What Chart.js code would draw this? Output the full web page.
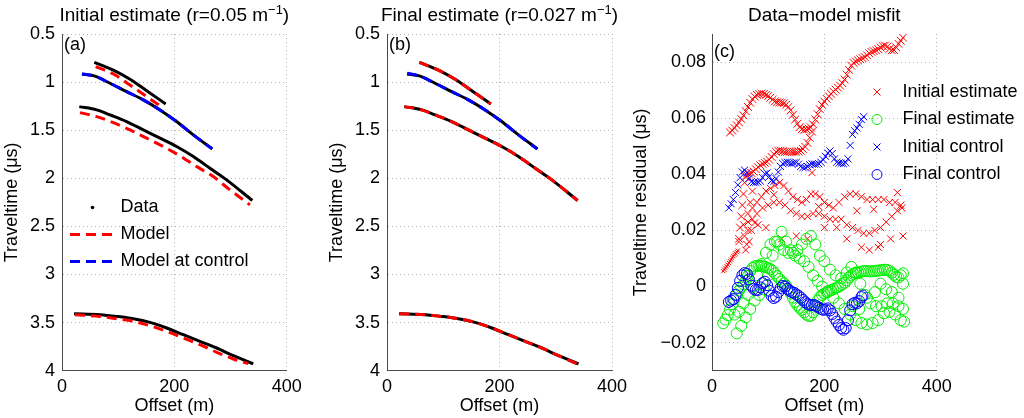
<!DOCTYPE html>
<html lang="en">
<head>
  <meta charset="UTF-8" />
  <title>Traveltime inversion: initial vs final estimate</title>
  <script src="https://cdn.jsdelivr.net/npm/chart.js"></script>
  <style>
    body { margin: 0; background: #fff; }
    #wrap { position: relative; width: 1024px; height: 418px; }
    #wrap canvas { position: absolute; left: 0; top: 0; }
  </style>
</head>
<body>
  <div id="wrap">
    <canvas id="chartA" width="1024" height="418"></canvas>
    <canvas id="chartB" width="1024" height="418"></canvas>
    <canvas id="chartC" width="1024" height="418"></canvas>
  </div>

  <script>
    // ---- axis ticks ----
    const offsetTicks = [0, 200, 400];
    const timeTicks = [0.5, 1, 1.5, 2, 2.5, 3, 3.5, 4];
    const residTicks = [-0.02, 0, 0.02, 0.04, 0.06, 0.08];

    // ---- picked traveltimes (offset m, time us) ----
    const data1X = [57.5, 91.4, 121, 150.7, 184.6];
    const data1T = [0.794, 0.875, 0.97, 1.09, 1.227];
    const data2X = [35.6, 57.5, 85.4, 115, 144.7, 174.4, 204, 233.7, 267.5];
    const data2T = [0.915, 0.936, 1.012, 1.099, 1.185, 1.289, 1.41, 1.549, 1.694];
    const data3X = [30.8, 61.7, 85.4, 115, 144.7, 174.4, 204, 233.7, 263.4, 293, 338.8];
    const data3T = [1.255, 1.289, 1.341, 1.41, 1.497, 1.583, 1.67, 1.774, 1.895, 2.016, 2.231];
    const data4X = [21.4, 67.6, 97.4, 127, 156.6, 186.3, 216, 245.6, 275.3, 305, 340.5];
    const data4T = [3.408, 3.418, 3.436, 3.46, 3.498, 3.556, 3.626, 3.695, 3.764, 3.844, 3.93];

    // initial model (r=0.05)
    const init1X = [60, 91.4, 121, 150.7, 178.5];
    const init1T = [0.84, 0.915, 1.03, 1.151, 1.261];
    const init3X = [32, 61.7, 91.4, 121, 150.7, 180.3, 210, 239.7, 269.3, 299, 334.6];
    const init3T = [1.317, 1.359, 1.421, 1.497, 1.583, 1.67, 1.767, 1.878, 1.982, 2.12, 2.276];
    const init4X = [23, 67.6, 97.4, 127, 156.6, 186.3, 216, 245.6, 275.3, 305, 331.6];
    const init4T = [3.418, 3.436, 3.46, 3.487, 3.532, 3.591, 3.66, 3.729, 3.809, 3.878, 3.927];
    const initCtrlX = [35.6, 57.5, 85.4, 115, 144.7, 174.4, 204, 233.7, 267.5];
    const initCtrlT = [0.915, 0.936, 1.012, 1.099, 1.185, 1.289, 1.41, 1.549, 1.694];

    // final model (r=0.027) - sits on the data
    const fin1X = [57.5, 91.4, 121, 150.7, 184.6];
    const fin1T = [0.794, 0.875, 0.97, 1.09, 1.227];
    const fin3X = [30.8, 61.7, 85.4, 115, 144.7, 174.4, 204, 233.7, 263.4, 293, 338.8];
    const fin3T = [1.255, 1.289, 1.341, 1.41, 1.497, 1.583, 1.67, 1.774, 1.895, 2.016, 2.231];
    const fin4X = [21.9, 67.6, 97.4, 127, 156.6, 186.3, 216, 245.6, 275.3, 305, 338];
    const fin4T = [3.408, 3.418, 3.436, 3.46, 3.498, 3.556, 3.626, 3.695, 3.764, 3.844, 3.93];
    const finCtrlX = [36, 57.5, 85.4, 115, 144.7, 174.4, 204, 233.7, 267.3];
    const finCtrlT = [0.908, 0.936, 1.012, 1.099, 1.185, 1.289, 1.41, 1.549, 1.697];

    // ---- residuals (offset m, residual us) ----
    const misfitInitBand = [[32,0.0549],[36,0.0556],[40,0.0565],[44,0.0575],[48,0.0585],[52,0.0597],[56,0.061],[60,0.0625],
      [64,0.064],[68,0.0655],[72,0.0668],[76,0.0677],[80,0.0683],[84,0.0686],[88,0.0687],[92,0.0686],[96,0.0683],[100,0.0679],
      [104,0.0673],[108,0.0666],[112,0.066],[116,0.0657],[120,0.0656],[124,0.0655],[128,0.0653],[132,0.0648],[136,0.064],
      [140,0.0628],[144,0.0612],[148,0.0595],[152,0.058],[156,0.0568],[160,0.0561],[164,0.0559],[168,0.056],[172,0.0563],
      [176,0.0567],[180,0.0578],[184,0.0595],[188,0.0614],[192,0.0632],[196,0.0647],[200,0.0659],[204,0.0669],[208,0.0678],
      [212,0.0687],[216,0.0695],[220,0.0702],[224,0.0709],[228,0.0716],[232,0.0725],[236,0.0738],[240,0.0755],[244,0.0772],
      [248,0.0787],[252,0.0797],[256,0.0802],[260,0.0806],[264,0.081],[268,0.0814],[272,0.0818],[276,0.0824],[280,0.0831],
      [284,0.0836],[288,0.0839],[292,0.0842],[296,0.0846],[300,0.0852],[304,0.0857],[308,0.0859],[312,0.0855],[316,0.0847],
      [320,0.0842],[324,0.0843],[328,0.0852],[332,0.0865],[336,0.0876],[340,0.0887]];
    const misfitInitLow = [[48,0.017],[50,0.021],[52,0.025],[54,0.029],[56,0.033],[58,0.037],[60,0.039],[62,0.0398],[66,0.0402],
      [70,0.0405],[74,0.041],[78,0.0418],[82,0.0425],[86,0.0432],[90,0.0437],[94,0.0441],[98,0.0445],[102,0.0452],[106,0.0462],
      [110,0.0472],[114,0.048],[118,0.0484],[122,0.0484],[126,0.0482],[130,0.048],[134,0.048],[138,0.048],[142,0.048],
      [146,0.048],[150,0.048],[154,0.0481],[158,0.0484],[162,0.049],[166,0.0498],[170,0.0512],[174,0.053],[178,0.0552]];
    const misfitInitNear = [[20,0.0055],[22,0.006],[24,0.0066],[26,0.0072],[28,0.0078],[30,0.0084],[32,0.009],[34,0.0096],
      [36,0.0102],[38,0.0108],[40,0.0113],[42,0.0118],[44,0.0123],[46,0.0128]];
    const misfitInitScatter = [[64,0.026],[72,0.028],[80,0.03],[88,0.032],[96,0.034],[104,0.035],[112,0.036],[120,0.037],
      [128,0.036],[136,0.034],[144,0.032],[152,0.031],[160,0.03],[168,0.031],[176,0.033],[184,0.033],[192,0.032],[200,0.03],
      [208,0.029],[216,0.028],[226,0.03],[236,0.032],[246,0.033],[256,0.033],[266,0.032],[276,0.031],[286,0.031],[296,0.031],
      [306,0.031],[316,0.03],[326,0.03],[336,0.029],
      [56,0.022],[64,0.023],[72,0.024],[80,0.026],[90,0.028],[100,0.029],[110,0.03],[120,0.03],[130,0.029],[140,0.027],
      [150,0.026],[160,0.025],[170,0.025],[180,0.026],[190,0.026],[200,0.025],[210,0.024],[220,0.024],[230,0.024],[240,0.022],
      [250,0.021],[260,0.02],[270,0.019],[280,0.019],[290,0.02],[300,0.021],[310,0.023],[320,0.025],[330,0.027],[338,0.028],
      [48,0.016],[58,0.018],[70,0.02],[82,0.022],[96,0.021],[124,0.017],[150,0.018],[170,0.017],[200,0.021],[222,0.021],
      [266,0.014],[296,0.014],[318,0.017],[340,0.018],[178,0.0406],
      [60,0.013],[62,0.015],[64,0.02],[66,0.016],[68,0.03],[72,0.034],[76,0.0227],[110,0.0327],[190,0.0285],[258,0.027],
      [288,0.0275],[330,0.0335],[240,0.017],[280,0.013],[300,0.015]];

    const misfitFinalBand = [[20,-0.0131],[24,-0.0118],[28,-0.0102],[32,-0.0082],[36,-0.0063],[40,-0.0045],[44,-0.003],
      [48,-0.0015],[52,-0.0003],[56,0.0008],[60,0.002],[64,0.0038],[68,0.0055],[72,0.0066],[76,0.0072],[80,0.0074],[84,0.0074],
      [88,0.0073],[92,0.0071],[96,0.0069],[100,0.0066],[104,0.0062],[108,0.0056],[112,0.0047],[116,0.0037],[120,0.0027],
      [124,0.0018],[128,0.0012],[132,0.0003],[136,-0.001],[140,-0.0025],[144,-0.004],[148,-0.0055],[152,-0.0067],[156,-0.0076],
      [160,-0.0083],[164,-0.0092],[168,-0.01],[172,-0.0105],[176,-0.0104],[180,-0.0092],[184,-0.0068],[188,-0.005],[192,-0.0038],
      [196,-0.003],[200,-0.0025],[204,-0.002],[208,-0.0016],[212,-0.0013],[216,-0.001],[220,-0.0006],[224,-0.0002],[228,0.0002],
      [232,0.0008],[236,0.0014],[240,0.0022],[244,0.0032],[248,0.004],[252,0.0045],[256,0.0048],[260,0.005],[264,0.0052],
      [268,0.0054],[272,0.0055],[276,0.0055],[280,0.0054],[284,0.0054],[288,0.0055],[292,0.0056],[296,0.0057],[300,0.0058],
      [304,0.0059],[308,0.006],[312,0.0059],[316,0.0056],[320,0.0049],[324,0.0042],[328,0.0034],[332,0.0032],[336,0.004],[340,0.0047]];
    const misfitFinalScatter = [[44,-0.0167],[52,-0.014],[60,-0.011],[68,-0.008],[76,-0.005],[84,-0.003],[92,-0.001],[100,0.004],
      [108,0.011],[116,0.016],[124,0.0195],[132,0.016],[140,0.013],[148,0.011],[156,0.01],[164,0.009],[172,0.007],[180,0.004],
      [188,0.002],[196,0],[206,-0.002],[216,-0.004],[226,-0.006],[236,-0.008],[246,-0.01],[256,-0.012],[266,-0.013],
      [276,-0.0135],[286,-0.013],[296,-0.012],[306,-0.0095],[316,-0.009],[326,-0.01],[336,-0.012],[342,-0.0125],
      [40,-0.01],[48,-0.009],[56,-0.006],[64,-0.003],[72,0],[80,0.004],[88,0.008],[96,0.012],[104,0.015],[112,0.016],[120,0.015],
      [128,0.013],[136,0.012],[144,0.012],[152,0.013],[160,0.015],[168,0.017],[176,0.018],[184,0.015],[192,0.011],[200,0.009],
      [210,0.006],[220,0.004],[230,0.003],[240,0.005],[248,0.007],[256,0.005],[264,0.001],[272,-0.003],[282,-0.006],[292,-0.007],
      [302,-0.007],[312,-0.006],[322,-0.006],[332,-0.007],[340,-0.008],
      [250,-0.007],[262,-0.008],[276,-0.004],[290,-0.002],[300,0.001],[310,-0.001],[320,-0.002],[332,-0.004],[340,0.001]];

    const misfitCtrlInit = [[30,0.028],[34,0.0295],[38,0.031],[42,0.0335],[46,0.0362],[50,0.0388],[54,0.0408],[58,0.0415],
      [62,0.0405],[66,0.0385],[70,0.0374],[74,0.0371],[78,0.0371],[82,0.0372],[86,0.0376],[90,0.0388],[94,0.0402],[98,0.0405],
      [102,0.0392],[106,0.0378],[110,0.0374],[114,0.0385],[118,0.0408],[122,0.0428],[126,0.0438],[130,0.0442],[134,0.0443],
      [138,0.0441],[142,0.0439],[146,0.0441],[150,0.0442],[154,0.0436],[158,0.0428],[162,0.0424],[166,0.0424],[170,0.0428],
      [174,0.0434],[178,0.0437],[182,0.0436],[186,0.0436],[190,0.0438],[194,0.0443],[198,0.0452],[202,0.0464],[206,0.0476],
      [210,0.0483],[214,0.0474],[218,0.0455],[222,0.0443],[226,0.044],[230,0.0439],[234,0.0438],[238,0.0441],[242,0.0455],
      [246,0.0503],[250,0.0542],[254,0.0555],[258,0.0565],[262,0.0578],[266,0.0595],[270,0.0605]];
    const misfitCtrlFinal = [[30,-0.0055],[34,-0.005],[38,-0.0045],[42,-0.003],[46,-0.0005],[50,0.002],[54,0.004],[58,0.0048],
      [62,0.0045],[66,0.0025],[70,0.0003],[74,-0.0008],[78,-0.0012],[82,-0.0012],[86,-0.0003],[90,0.0012],[94,0.0017],[98,0.0005],
      [102,-0.0015],[106,-0.0033],[110,-0.0041],[114,-0.0036],[118,-0.002],[122,-0.0005],[126,0.0002],[130,0],[134,-0.0008],
      [138,-0.0015],[142,-0.002],[146,-0.0022],[150,-0.0028],[154,-0.0033],[158,-0.004],[162,-0.0048],[166,-0.0056],[170,-0.0062],
      [174,-0.0065],[178,-0.0066],[182,-0.0066],[186,-0.007],[190,-0.0075],[194,-0.008],[198,-0.0083],[202,-0.0082],[206,-0.0078],
      [210,-0.0085],[214,-0.0098],[218,-0.0112],[222,-0.0125],[226,-0.0137],[230,-0.0148],[234,-0.0154],[238,-0.0148],[242,-0.012],
      [246,-0.0085],[250,-0.0063],[254,-0.0058],[258,-0.006],[262,-0.0052],[266,-0.0038],[268,-0.0032]];

    // ---- helpers ----
    const FONT = '"Liberation Sans", Arial, Helvetica, sans-serif';
    Chart.defaults.font.family = FONT;
    Chart.defaults.font.size = 18;
    Chart.defaults.color = '#000';

    const curve = (xs, ts) => xs.map((x, i) => ({ x: x, y: ts[i] }));
    const pts = list => list.map(p => ({ x: p[0], y: p[1] }));

    // titles, panel tags and the hand-placed legends
    const overlayText = {
      id: 'overlayText',
      afterDraw(chart, args, opts) {
        const ctx = chart.ctx;
        const area = chart.chartArea;
        const big = '18px ' + FONT, head = '19px ' + FONT, small = '13px ' + FONT;
        ctx.save();
        ctx.fillStyle = '#000';
        ctx.textAlign = 'left';

        const t = opts.title;
        ctx.font = head;
        const w1 = ctx.measureText(t.main).width;
        const w3 = t.tail ? ctx.measureText(t.tail).width : 0;
        ctx.font = small;
        const w2 = t.sup ? ctx.measureText(t.sup).width : 0;
        let x = (area.left + area.right) / 2 - (w1 + w2 + w3) / 2;
        ctx.textBaseline = 'alphabetic';
        ctx.font = head;
        ctx.fillText(t.main, x, 21);
        x += w1;
        if (t.sup) { ctx.font = small; ctx.fillText(t.sup, x, 14); x += w2; }
        if (t.tail) { ctx.font = head; ctx.fillText(t.tail, x, 21); }

        ctx.font = big;
        ctx.textBaseline = 'middle';
        ctx.fillText(opts.tag.text, area.left + 2, opts.tag.y);

        const L = opts.legend;
        if (L) {
          let row = 0;
          chart.data.datasets.forEach(ds => {
            if (!ds.label) return;
            const y = L.top + row * L.rowHeight;
            const mid = (L.x0 + L.x1) / 2;
            ctx.save();
            if (ds.legendMark === 'dot') {
              ctx.fillStyle = ds.borderColor;
              ctx.beginPath(); ctx.arc(mid, y, 1.8, 0, Math.PI * 2); ctx.fill();
            } else if (ds.legendMark === 'dash') {
              ctx.strokeStyle = ds.borderColor;
              ctx.lineWidth = ds.borderWidth;
              ctx.setLineDash(ds.borderDash);
              ctx.beginPath(); ctx.moveTo(L.x0, y); ctx.lineTo(L.x1, y); ctx.stroke();
            } else if (ds.pointStyle === 'crossRot') {
              const r = 3.5;
              ctx.strokeStyle = ds.borderColor; ctx.lineWidth = 1;
              ctx.beginPath();
              ctx.moveTo(mid - r, y - r); ctx.lineTo(mid + r, y + r);
              ctx.moveTo(mid - r, y + r); ctx.lineTo(mid + r, y - r);
              ctx.stroke();
            } else {
              ctx.strokeStyle = ds.borderColor; ctx.lineWidth = 1;
              ctx.beginPath(); ctx.arc(mid, y, 5, 0, Math.PI * 2); ctx.stroke();
            }
            ctx.restore();
            ctx.fillText(ds.label, L.textX, y);
            row++;
          });
        }
        ctx.restore();
      }
    };

    function baseScales(yWidth, yTitle, yTitlePad, yTicks, yOpts) {
      return {
        x: {
          type: 'linear', min: 0, max: 400,
          afterBuildTicks: s => { s.ticks = offsetTicks.map(v => ({ value: v })); },
          afterFit: s => { s.height = 47.3; },
          grid: { color: '#b4b4b4', drawTicks: false },
          border: { display: true, color: '#4a4a4a', width: 1, dash: [1, 3] },
          ticks: { padding: 6, maxRotation: 0, callback: v => String(v) },
          title: { display: true, text: 'Offset (m)', padding: { top: 0, bottom: 1.2 } }
        },
        y: Object.assign({
          type: 'linear',
          afterBuildTicks: s => { s.ticks = yTicks.map(v => ({ value: v })); },
          afterFit: s => { s.width = yWidth; },
          grid: { color: '#b4b4b4', drawTicks: false },
          border: { display: true, color: '#4a4a4a', width: 1, dash: [1, 3] },
          title: { display: true, text: yTitle, padding: { top: yTitlePad, bottom: 0 } }
        }, yOpts)
      };
    }

    const dataStyle = { borderColor: '#000', borderWidth: 3, pointRadius: 0, showLine: true,
      cubicInterpolationMode: 'monotone', order: 5 };
    const modelStyle = color => ({ borderColor: color, borderWidth: 3, borderDash: [10, 6], pointRadius: 0,
      showLine: true, cubicInterpolationMode: 'monotone', order: 1 });

    function travelDatasets(model, withLegend) {
      return [
        Object.assign({ label: withLegend ? 'Data' : '', legendMark: 'dot', data: curve(data1X, data1T) }, dataStyle),
        Object.assign({ label: withLegend ? 'Model' : '', legendMark: 'dash', data: model[0] }, modelStyle('#ff0000')),
        Object.assign({ label: withLegend ? 'Model at control' : '', legendMark: 'dash', data: model[1] }, modelStyle('#0000ff')),
        Object.assign({ label: '', data: curve(data2X, data2T) }, dataStyle),
        Object.assign({ label: '', data: curve(data3X, data3T) }, dataStyle),
        Object.assign({ label: '', data: curve(data4X, data4T) }, dataStyle),
        Object.assign({ label: '', data: model[2] }, modelStyle('#ff0000')),
        Object.assign({ label: '', data: model[3] }, modelStyle('#ff0000'))
      ];
    }

    const timeAxis = { min: 0.5, max: 4, reverse: true, ticks: { padding: 7, callback: v => String(v) } };

    // (a) initial estimate
    new Chart(document.getElementById('chartA'), {
      type: 'scatter',
      data: { datasets: travelDatasets([curve(init1X, init1T), curve(initCtrlX, initCtrlT),
        curve(init3X, init3T), curve(init4X, init4T)], true) },
      options: {
        responsive: false, animation: false,
        layout: { padding: { left: 0, right: 737.3, top: 34, bottom: 0 } },
        scales: baseScales(62, 'Traveltime (μs)', 1.2, timeTicks, timeAxis),
        plugins: {
          legend: { display: false }, tooltip: { enabled: false },
          overlayText: {
            title: { main: 'Initial estimate (r=0.05 m', sup: '−1', tail: ')' },
            tag: { text: '(a)', y: 45 },
            legend: { top: 207.5, rowHeight: 27, x0: 70, x1: 115, textX: 120.5 }
          }
        }
      },
      plugins: [overlayText]
    });

    // (b) final estimate
    new Chart(document.getElementById('chartB'), {
      type: 'scatter',
      data: { datasets: travelDatasets([curve(fin1X, fin1T), curve(finCtrlX, finCtrlT),
        curve(fin3X, fin3T), curve(fin4X, fin4T)], false) },
      options: {
        responsive: false, animation: false,
        layout: { padding: { left: 325, right: 412, top: 34, bottom: 0 } },
        scales: baseScales(62, 'Traveltime (μs)', 1.2, timeTicks, timeAxis),
        plugins: {
          legend: { display: false }, tooltip: { enabled: false },
          overlayText: {
            title: { main: 'Final estimate (r=0.027 m', sup: '−1', tail: ')' },
            tag: { text: '(b)', y: 45 }
          }
        }
      },
      plugins: [overlayText]
    });

    // (c) residuals
    const xMark = (color, r) => ({ pointStyle: 'crossRot', pointRadius: r, borderColor: color, borderWidth: 1,
      backgroundColor: 'rgba(0,0,0,0)', showLine: false });
    const oMark = (color, r) => ({ pointStyle: 'circle', pointRadius: r, borderColor: color, borderWidth: 1,
      backgroundColor: 'rgba(0,0,0,0)', showLine: false });

    new Chart(document.getElementById('chartC'), {
      type: 'scatter',
      data: {
        datasets: [
          Object.assign({ label: 'Initial estimate', data: pts(misfitInitBand), order: 8 }, xMark('#ff0000', 5.5)),
          Object.assign({ label: 'Final estimate', data: pts(misfitFinalBand), order: 4 }, oMark('#00ee00', 5.5)),
          Object.assign({ label: 'Initial control', data: pts(misfitCtrlInit), order: 2 }, xMark('#0000ff', 5)),
          Object.assign({ label: 'Final control', data: pts(misfitCtrlFinal), order: 1 }, oMark('#0000ff', 5.5)),
          Object.assign({ label: '', data: pts(misfitInitLow), order: 7 }, xMark('#ff0000', 5.5)),
          Object.assign({ label: '', data: pts(misfitInitNear), order: 7 }, xMark('#ff0000', 3)),
          Object.assign({ label: '', data: pts(misfitInitScatter), order: 6 }, xMark('#ff0000', 5)),
          Object.assign({ label: '', data: pts(misfitFinalScatter), order: 5 }, oMark('#00ee00', 5.5))
        ]
      },
      options: {
        responsive: false, animation: false,
        layout: { padding: { left: 630, right: 87.3, top: 34, bottom: 0 } },
        scales: baseScales(82, 'Traveltime residual (μs)', 0, residTicks, {
          min: -0.03, max: 0.09,
          ticks: { padding: 6, callback: v => v === 0 ? '0' : v.toFixed(2).replace('-', '−') }
        }),
        plugins: {
          legend: { display: false }, tooltip: { enabled: false },
          overlayText: {
            title: { main: 'Data−model misfit' },
            tag: { text: '(c)', y: 52 },
            legend: { top: 92, rowHeight: 27.5, x0: 870, x1: 884, textX: 902.5 }
          }
        }
      },
      plugins: [overlayText]
    });
  </script>
</body>
</html>
